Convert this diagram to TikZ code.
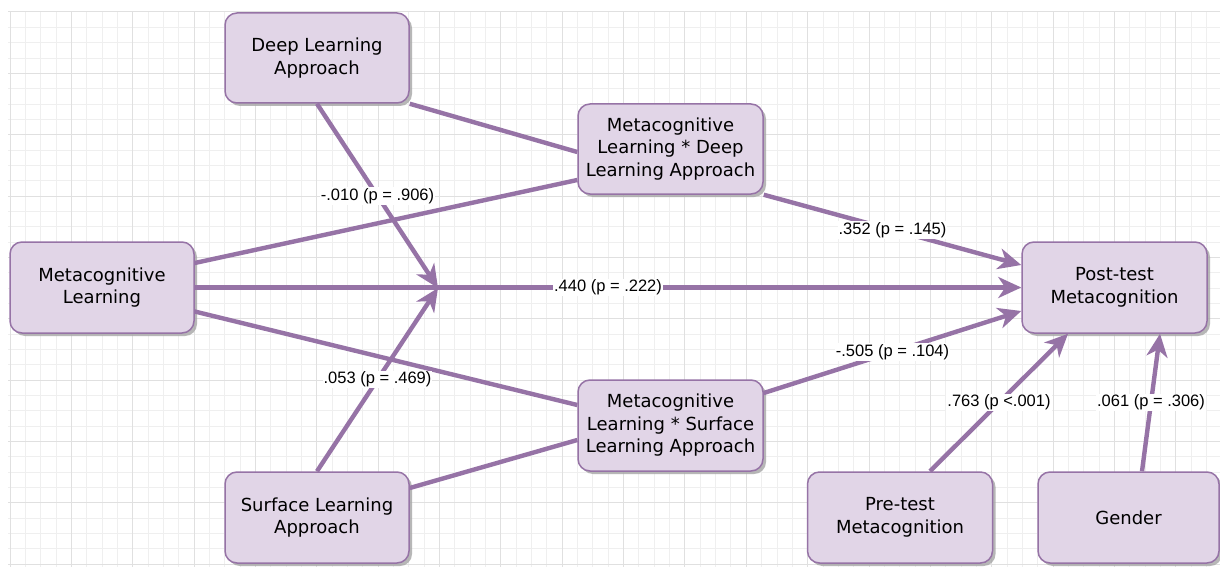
\documentclass[tikz,border=0pt]{standalone}
\usepackage{fontspec}
\setmainfont{DejaVu Sans}
\newfontfamily\labfont{Liberation Sans}
\usetikzlibrary{arrows.meta,shadows,calc}
\definecolor{boxfill}{HTML}{E1D5E7}
\definecolor{boxline}{HTML}{9673A6}
\definecolor{gridminor}{HTML}{EFEFEF}
\definecolor{gridmajor}{HTML}{E0E0E0}
\begin{document}
\begin{tikzpicture}[x=1pt,y=-1pt,
  box/.style={draw=boxline, line width=1.5pt, fill=boxfill, rounded corners=12pt,
    minimum width=184pt, minimum height=90pt, inner sep=2pt, align=center, text=black,
    font=\fontsize{18}{22.5}\selectfont,
    drop shadow={shadow xshift=3pt, shadow yshift=-3pt, fill=black!35, opacity=0.8}},
  conn/.style={draw=boxline, line width=4.4pt},
  arr/.style={conn, -{Stealth[length=23pt, width=21pt, inset=7pt]}},
  lab/.style={fill=white, inner sep=1pt, text=black, font=\labfont\fontsize{16.5}{19}\selectfont}]
\useasboundingbox (0,0) rectangle (1220,567);
\fill[white] (0,0) rectangle (1220,567);
% grid
\foreach \i in {0,...,78} {\pgfmathsetmacro\xx{10+15.34*\i}
  \draw[gridminor, line width=1pt] (\xx,12) -- (\xx,567);}
\foreach \j in {0,...,36} {\pgfmathsetmacro\yy{12+15.34*\j}
  \draw[gridminor, line width=1pt] (8,\yy) -- (1220,\yy);}
\foreach \i in {0,...,19} {\pgfmathsetmacro\xx{10+61.36*\i}
  \draw[gridmajor, line width=1pt] (\xx,12) -- (\xx,567);}
\foreach \j in {0,...,9} {\pgfmathsetmacro\yy{12+61.36*\j}
  \draw[gridmajor, line width=1pt] (8,\yy) -- (1220,\yy);}
% nodes
\node[box] (deep) at (317,58) {Deep Learning\\Approach};
\node[box, minimum width=185pt] (mld) at (670.5,149) {Metacognitive\\Learning * Deep\\Learning Approach};
\node[box, minimum height=91pt] (ml) at (102,287.5) {Metacognitive\\Learning};
\node[box, minimum width=185pt, minimum height=91pt] (post) at (1114.5,287.5) {Post-test\\Metacognition};
\node[box, minimum width=185pt, minimum height=91pt] (mls) at (670.5,425.5) {Metacognitive\\Learning * Surface\\Learning Approach};
\node[box, minimum height=91pt] (surf) at (317,517.5) {Surface Learning\\Approach};
\node[box, minimum width=185pt, minimum height=91pt] (pre) at (900,517.5) {Pre-test\\Metacognition};
\node[box, minimum width=181pt, minimum height=91pt] (gender) at (1128.5,517.5) {Gender};
\coordinate (j) at (438,288);
% connectors
\draw[conn] (deep.south east) -- ([yshift=-3pt]mld.west);
\draw[conn] ([yshift=24.5pt]ml.east) -- ([yshift=-31pt]mld.west);
\draw[conn] ([yshift=-24pt]ml.east) -- ([yshift=20.5pt]mls.west);
\draw[conn] ([yshift=29.5pt]surf.east) -- ([yshift=-14.5pt]mls.west);
\draw[arr] (deep.south) -- (j) node[lab, pos=0.5] {-.010 (p = .906)};
\draw[arr] (surf.north) -- (j) node[lab, pos=0.5] {.053 (p = .469)};
\draw[arr] (ml.east) -- (post.west) node[lab, pos=0.5] {.440 (p = .222)};
\draw[arr] (mld.south east) -- ([yshift=22.5pt]post.west) node[lab, pos=0.5] {.352 (p = .145)};
\draw[arr] ([yshift=32.5pt]mls.east) -- ([yshift=-23.5pt]post.west) node[lab, pos=0.5] {-.505 (p = .104)};
\draw[arr] ([xshift=30pt]pre.north) -- ([xshift=-46.5pt]post.south) node[lab, pos=0.5] {.763 (p <.001)};
\draw[arr] ([xshift=13.5pt]gender.north) -- ([xshift=45.5pt]post.south) node[lab, pos=0.5] {.061 (p = .306)};
\end{tikzpicture}
\end{document}
